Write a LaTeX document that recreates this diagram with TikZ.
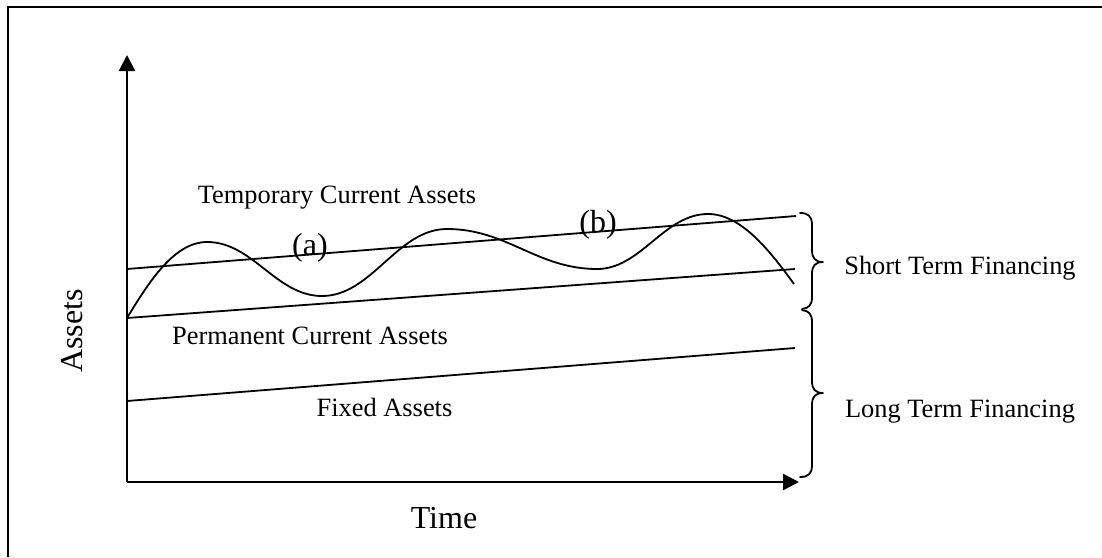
\documentclass[tikz,border=0pt]{standalone}
\usepackage{fontspec}
\setmainfont{Liberation Serif}
\usetikzlibrary{arrows.meta}
\begin{document}
\begin{tikzpicture}[x=1pt,y=-1pt,
  lbl/.style={inner sep=0pt,anchor=base,font=\fontsize{26.4}{30}\selectfont},
  biglbl/.style={inner sep=0pt,anchor=base,font=\fontsize{32}{36}\selectfont},
  axis/.style={line width=2.4pt,-{Triangle[length=16pt,width=16pt]}},
  level/.style={line width=1.8pt},
  wave/.style={line width=1.8pt},
  bracepath/.style={line width=1.8pt,line cap=round,line join=round}]
\useasboundingbox (0,0) rectangle (1102,557);
% frame (top and left edges visible)
\draw[line width=2pt] (8,557) -- (8,7) -- (1102,7);
% axes
\coordinate (O) at (127,482);
\coordinate (Ytip) at (127,55);
\coordinate (Xtip) at (799,482);
\draw[axis] (O) -- (Ytip);
\draw[axis] (O) -- (Xtip);
% level lines
\coordinate (t1) at (127,269); \coordinate (t2) at (796,216);
\coordinate (m1) at (127,318); \coordinate (m2) at (795,269);
\coordinate (f1) at (127,401); \coordinate (f2) at (795,348);
\draw[level] (t1) -- (t2);
\draw[level] (m1) -- (m2);
\draw[level] (f1) -- (f2);
% wave
\draw[wave] (m1) .. controls (150,280) and (175,242) .. (207,242)
  .. controls (253,242) and (276,296) .. (322,296)
  .. controls (372,296) and (397,229) .. (447,229)
  .. controls (507,229) and (537,269) .. (597,269)
  .. controls (641,269) and (664,214) .. (708,214)
  .. controls (740,214) and (768,248) .. (794,284);
% braces
\draw[bracepath] (800,213) .. controls (808,213) and (812,216) .. (812,225)
  -- (812,250) .. controls (812,258) and (815,262) .. (823,262)
  .. controls (815,262) and (812,266) .. (812,274)
  -- (812,297) .. controls (812,305) and (809,308) .. (802,309);
\draw[bracepath] (802,310) .. controls (809,311) and (812,314) .. (812,322)
  -- (812,381) .. controls (812,389) and (815,393) .. (823,393)
  .. controls (815,393) and (812,397) .. (812,405)
  -- (812,465) .. controls (812,474) and (808,477) .. (800,477);
% labels
\node[lbl] (tca) at (337,203) {Temporary Current Assets};
\node[biglbl] (la) at (310,255) {(a)};
\node[biglbl] (lb) at (598,232) {(b)};
\node[lbl] (pca) at (310,344) {Permanent Current Assets};
\node[lbl] (fa) at (384.5,416) {Fixed Assets};
\node[lbl] (stf) at (960,274) {Short Term Financing};
\node[lbl] (ltf) at (960,417) {Long Term Financing};
\node[biglbl] (time) at (444,528) {Time};
\node[biglbl,rotate=90] (assets) at (82,331) {Assets};
\end{tikzpicture}
\end{document}
